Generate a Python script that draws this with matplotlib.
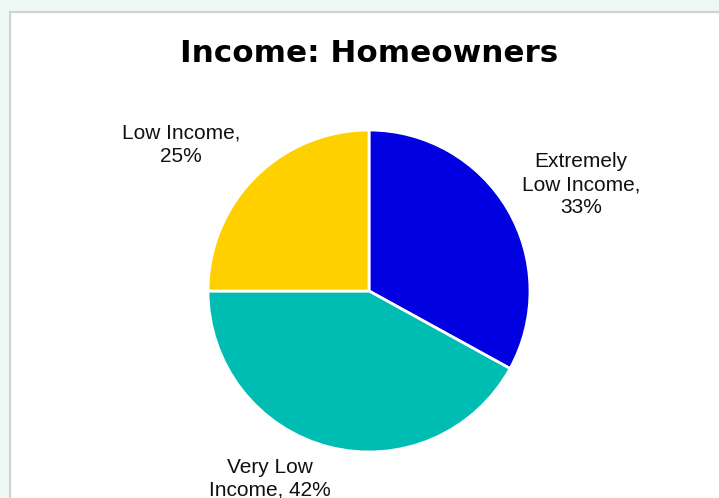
import matplotlib
matplotlib.use("Agg")
import matplotlib.pyplot as plt
from matplotlib.patches import Rectangle

plt.rcParams["font.family"] = ["Liberation Sans", "DejaVu Sans"]

categories = ["Extremely\nLow Income,", "Very Low\nIncome,", "Low Income,"]
shares = [33, 42, 25]
colors = ["#0000e0", "#00bdb4", "#ffd000"]
# label centres in pie units (radius = 1)
label_pos = [(1.317, 0.66), (-0.615, -1.165), (-1.168, 0.91)]

W, H = 719, 498
fig = plt.figure(figsize=(W / 100, H / 100), dpi=100)
fig.patch.set_facecolor("#eef8f4")

# white chart panel with grey border, running off the right and bottom edges
fig.add_artist(Rectangle((10 / W, -0.02), 1.02, 1 - 12 / H + 0.02, transform=fig.transFigure,
                         facecolor="white", edgecolor="#cfd4d2", lw=1.6, zorder=-5))

fig.text(369 / W, 1 - 54 / H, "Income: Homeowners", ha="center", va="center",
         fontsize=22.3, fontweight="bold", family="DejaVu Sans", color="black")

cx, cy, r = 369, 291, 161
ax = fig.add_axes([(cx - r) / W, 1 - (cy + r) / H, 2 * r / W, 2 * r / H])
ax.patch.set_visible(False)
ax.pie(shares, colors=colors, startangle=90, counterclock=False,
       wedgeprops=dict(edgecolor="white", linewidth=2))
ax.set_xlim(-1, 1); ax.set_ylim(-1, 1)
ax.set_aspect("equal")

for cat, val, (lx, ly) in zip(categories, shares, label_pos):
    sep = " " if cat.startswith("Very") else "\n"
    ax.text(lx, ly, f"{cat}{sep}{val}%", ha="center", va="center", fontsize=15,
            color="#111111", linespacing=1.27, clip_on=False)

fig.savefig("out.png", dpi=100, facecolor=fig.get_facecolor())
